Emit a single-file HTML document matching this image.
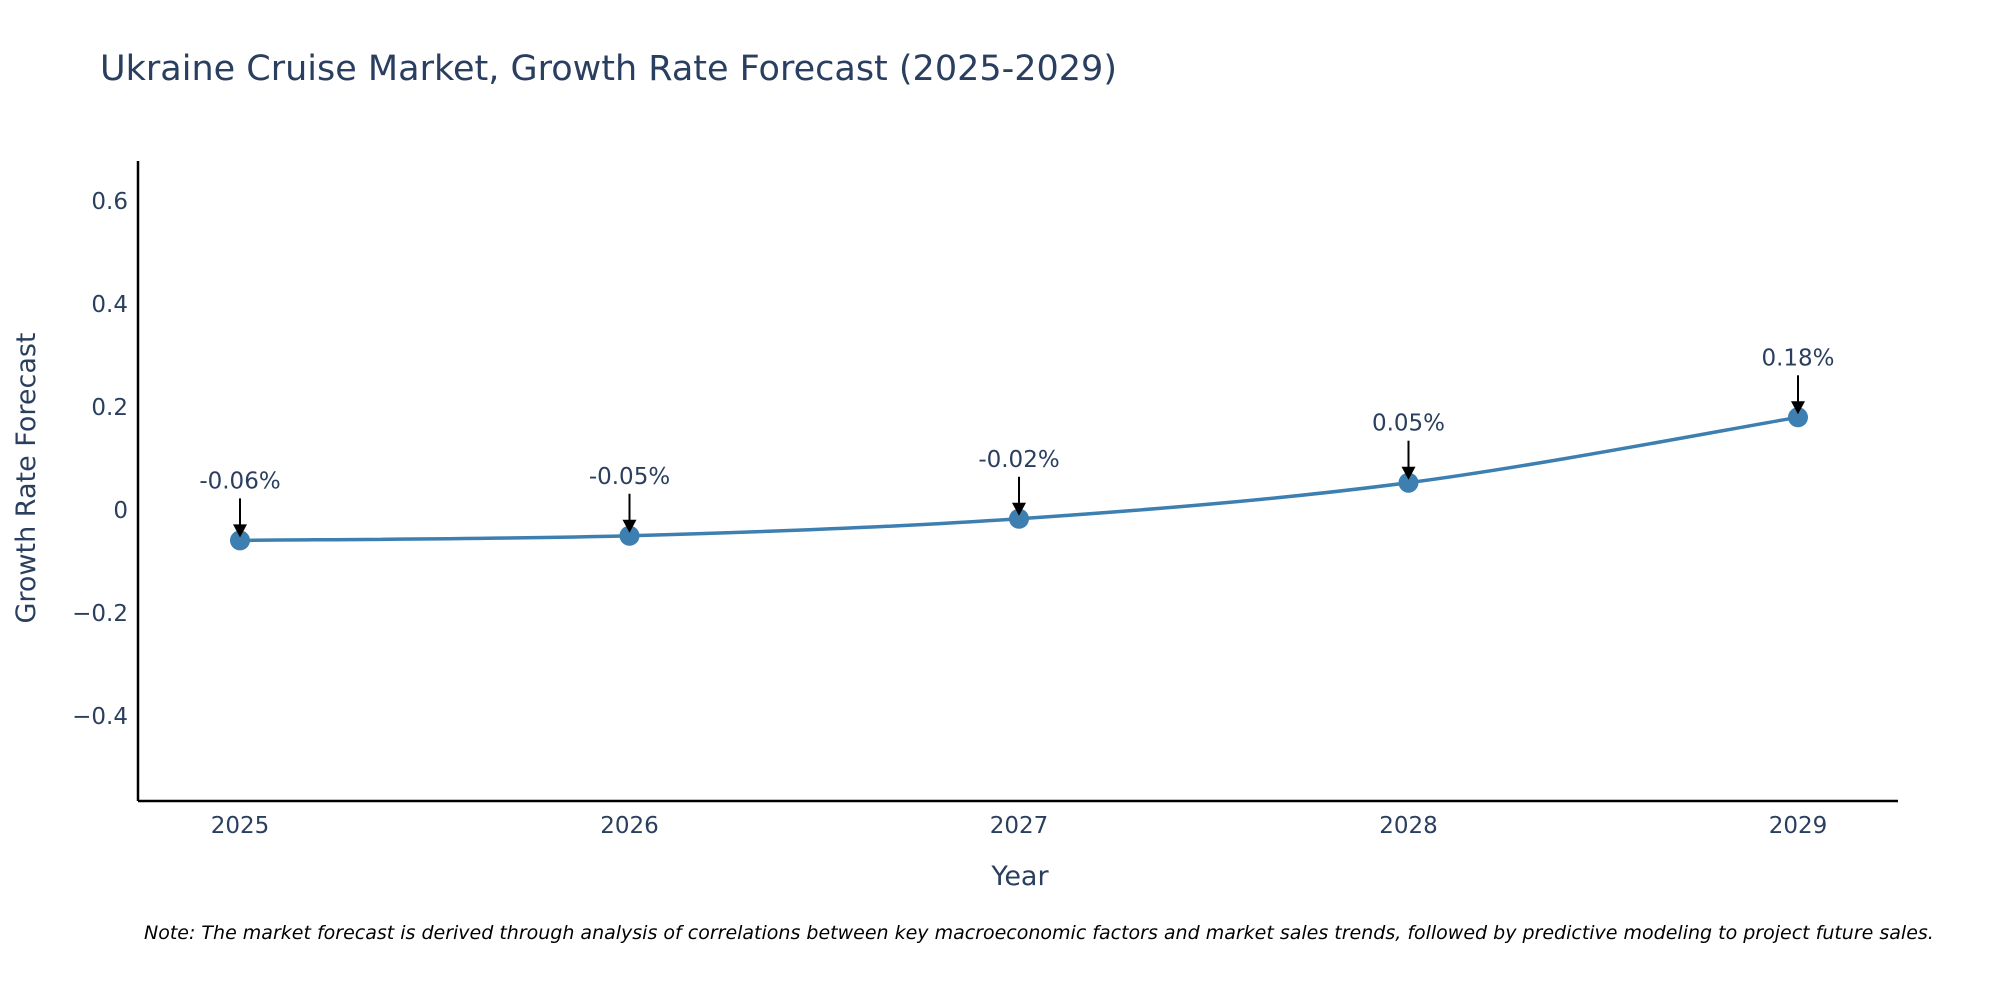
<!DOCTYPE html>
<html><head><meta charset="utf-8"><style>
body{margin:0;background:#fff;}
svg{display:block;font-family:"DejaVu Sans","Liberation Sans",sans-serif;}
</style></head><body>
<svg id="chart" width="2000" height="1000">
<rect width="2000" height="1000" fill="#fff"/>
<text x="100" y="80" font-size="35" fill="#2a3f5f">Ukraine Cruise Market, Growth Rate Forecast (2025-2029)</text>
<g id="yticks"></g><g id="xticks"></g>
<line x1="138" y1="161" x2="138" y2="801" stroke="#000" stroke-width="2.5"/>
<line x1="138" y1="801" x2="1898" y2="801" stroke="#000" stroke-width="2.5"/>
<text transform="translate(35,478) rotate(-90)" text-anchor="middle" font-size="27" fill="#2a3f5f">Growth Rate Forecast</text>
<text x="1020" y="885" text-anchor="middle" font-size="27" fill="#2a3f5f">Year</text>
<path id="line" fill="none" stroke="#3d7fb0" stroke-width="3.5"/>
<g id="marks"></g>
<text x="144" y="939" font-size="19" font-style="italic" fill="#000">Note: The market forecast is derived through analysis of correlations between key macroeconomic factors and market sales trends, followed by predictive modeling to project future sales.</text>
</svg>
<script>
const years=[2025,2026,2027,2028,2029];
const values=[-0.059,-0.05,-0.017,0.053,0.18];
const labels=["-0.06%","-0.05%","-0.02%","0.05%","0.18%"];
const yTicks=[-0.4,-0.2,0,0.2,0.4,0.6];
const yTickLabels=["\u22120.4","\u22120.2","0","0.2","0.4","0.6"];
const NS="http://www.w3.org/2000/svg";
const xs=y=>240+(y-2025)*(1798-240)/4;
const ys=v=>510-v*515;
function mk(t,a,p){const e=document.createElementNS(NS,t);for(const k in a)e.setAttribute(k,a[k]);p.appendChild(e);return e;}
const yt=document.getElementById('yticks');
yTicks.forEach((v,i)=>{const t=mk('text',{x:128,y:ys(v)+8,'text-anchor':'end','font-size':23,fill:'#2a3f5f'},yt);t.textContent=yTickLabels[i];

});
const xt=document.getElementById('xticks');
years.forEach(y=>{const t=mk('text',{x:xs(y),y:833,'text-anchor':'middle','font-size':23,fill:'#2a3f5f'},xt);t.textContent=y;

});
const P=years.map((y,i)=>[xs(y),ys(values[i])]);
let d=`M${P[0][0]},${P[0][1]}`;
for(let i=0;i<P.length-1;i++){const p0=P[Math.max(i-1,0)],p1=P[i],p2=P[i+1],p3=P[Math.min(i+2,P.length-1)];const k=6;
d+=` C${p1[0]+(p2[0]-p0[0])/k},${p1[1]+(p2[1]-p0[1])/k} ${p2[0]-(p3[0]-p1[0])/k},${p2[1]-(p3[1]-p1[1])/k} ${p2[0]},${p2[1]}`;}
document.getElementById('line').setAttribute('d',d);
const g=document.getElementById('marks');
P.forEach((p,i)=>{
const c=mk('circle',{cx:p[0],cy:p[1],r:10,fill:'#3d7fb0'},g);


const l=mk('line',{x1:p[0],y1:p[1]-42,x2:p[0],y2:p[1]-14,stroke:'#000','stroke-width':2},g);


const a=mk('path',{d:`M${p[0]-7},${p[1]-16} L${p[0]+7},${p[1]-16} L${p[0]},${p[1]-3} Z`,fill:'#000'},g);


const t=mk('text',{x:p[0],y:p[1]-52,'text-anchor':'middle','font-size':23,fill:'#2a3f5f'},g);t.textContent=labels[i];


});
</script>
</body></html>
